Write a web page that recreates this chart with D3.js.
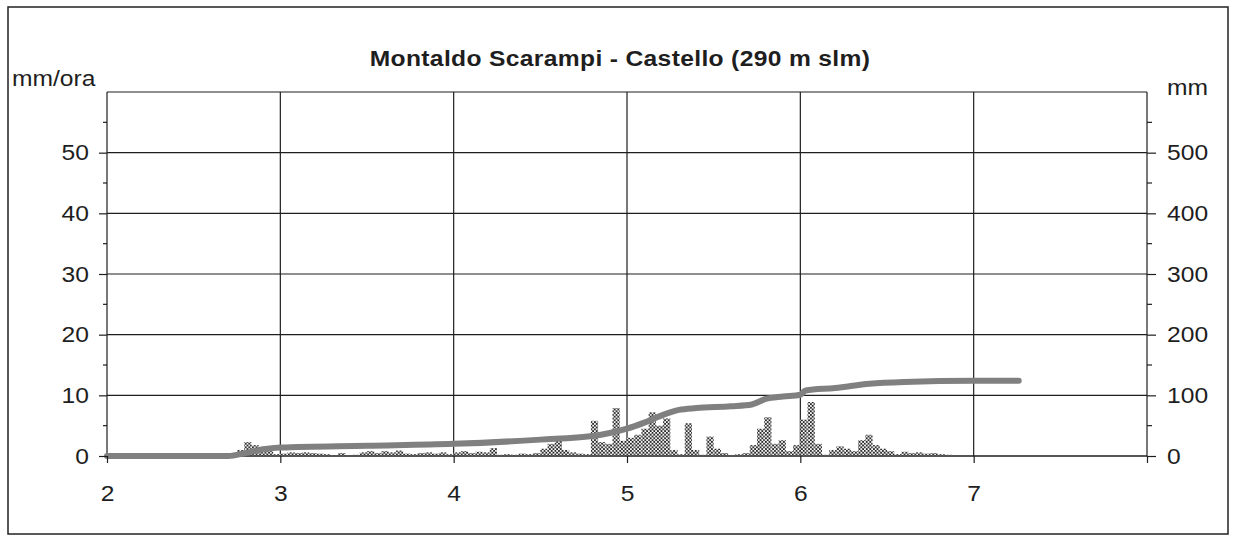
<!DOCTYPE html>
<html>
<head>
<meta charset="utf-8">
<script src="https://cdn.jsdelivr.net/npm/d3@7"></script>
<style>
  body { margin: 0; background: #fff; }
  svg text { font-family: "Liberation Sans", Arial, Helvetica, sans-serif; fill: #1e1e1e; }
</style>
</head>
<body>
<svg id="chart" width="1235" height="542"></svg>
<script>
// day ticks on the x axis
let dayTicks = [2, 3, 4, 5, 6, 7, 8]
let dayLabels = ['2', '3', '4', '5', '6', '7', '']
// left axis (mm/ora) and right axis (mm)
let rateTicks = [0, 10, 20, 30, 40, 50]
let rateMinor = [5, 15, 25, 35, 45, 55]
let cumTicks = [0, 100, 200, 300, 400, 500]
let cumMinor = [50, 150, 250, 350, 450, 550]

// hourly rain intensity (mm/ora), first bar starts at hour 17 of day 2
let firstHour = 17
let hourlyRain = [
  0.3, 1.0, 2.3, 1.8, 0.8, 1.5, 0.3,
  // day 3
  0.4, 0.6, 0.5, 0.6, 0.5, 0.4, 0.3, 0.1, 0.5, 0, 0.2, 0.6,
  0.8, 0.5, 0.8, 0.6, 0.9, 0.4, 0.3, 0.5, 0.6, 0.4, 0.6, 0.3,
  // day 4
  0.6, 0.8, 0.5, 0.7, 0.6, 1.3, 0.2, 0.3, 0.2, 0.4, 0.3, 0.5,
  1.2, 2.0, 3.3, 1.0, 0.6, 0.4, 0.3, 5.8, 2.3, 2.0, 7.9, 2.5,
  // day 5
  3.0, 3.5, 4.5, 7.2, 5.0, 6.2, 1.0, 0.3, 5.4, 1.0, 0.2, 3.2,
  1.2, 0.5, 0, 0.3, 0.5, 1.8, 4.5, 6.4, 2.0, 2.6, 0.8, 1.8,
  // day 6
  6.0, 8.9, 2.0, 0.2, 1.0, 1.6, 1.2, 0.8, 2.6, 3.5, 1.8, 1.2,
  0.8, 0.3, 0.7, 0.5, 0.6, 0.4, 0.5, 0.3, 0.2
]

// cumulated rain (mm)
let cumDay = [2.0, 2.70, 2.80, 2.90, 3.0, 3.5, 4.0, 4.5, 4.8, 4.9, 5.0, 5.1, 5.2, 5.3, 5.4, 5.6, 5.72, 5.8, 5.9, 6.0, 6.03, 6.2, 6.4, 6.6, 7.0, 7.26]
let cumMM = [0, 0, 5, 11, 14, 17, 20, 27, 33, 38, 45, 55, 67, 76, 79, 82, 85, 94, 98, 101, 108, 112, 119, 122, 124, 124]

let svg = d3.select('#chart')
let plotL = 107, plotR = 1147, plotT = 92, plotB = 456
// the printed letters are a bit wider than Liberation Sans
let stretch = 1.12

let x = d3.scaleLinear().domain([2, 8]).range([plotL, plotR])
let yRate = d3.scaleLinear().domain([0, 60]).range([plotB, plotT])
let yCum = d3.scaleLinear().domain([0, 600]).range([plotB, plotT])

// dotted fill like the printed bars
let defs = svg.append('defs')
let pat = defs.append('pattern')
  .attr('id', 'dots')
  .attr('patternUnits', 'userSpaceOnUse')
  .attr('width', 3.6).attr('height', 3.6)
pat.append('rect').attr('width', 3.6).attr('height', 3.6).attr('fill', '#fff')
pat.append('circle').attr('cx', 0.9).attr('cy', 0.9).attr('r', 1.05).attr('fill', '#222')
pat.append('circle').attr('cx', 2.7).attr('cy', 2.7).attr('r', 1.05).attr('fill', '#222')

// outer frame
svg.append('rect')
  .attr('x', 8).attr('y', 7).attr('width', 1220).attr('height', 527)
  .attr('fill', 'none').attr('stroke', '#222').attr('stroke-width', 1.5)

// text placed at (px,py) and widened horizontally
function wideText(px, py, size, str, anchor) {
  return svg.append('g')
    .attr('transform', `translate(${px},${py})`)
    .append('text')
    .attr('transform', `scale(${stretch},1)`)
    .attr('text-anchor', anchor || 'start')
    .attr('font-size', size)
    .text(str)
}

// title and unit labels
wideText(620, 66, 22, 'Montaldo Scarampi - Castello (290 m slm)', 'middle')
  .attr('font-weight', 'bold')
  .attr('letter-spacing', 0.3)
wideText(12, 86, 22, 'mm/ora')
wideText(1167, 95, 22, 'mm')

// grid
let grid = svg.append('g').attr('stroke', '#1e1e1e').attr('stroke-width', 1.2)
grid.selectAll('.hgrid')
  .data(rateTicks.concat([60]))
  .join('line')
  .attr('x1', plotL).attr('x2', plotR)
  .attr('y1', d => yRate(d)).attr('y2', d => yRate(d))
grid.selectAll('.vgrid')
  .data(dayTicks)
  .join('line')
  .attr('x1', d => x(d)).attr('x2', d => x(d))
  .attr('y1', plotT).attr('y2', plotB)

// hourly bars
let barW = x(2 + 1 / 24) - x(2)
svg.append('g').selectAll('rect')
  .data(hourlyRain)
  .join('rect')
  .attr('x', (d, i) => x(2 + (firstHour + i) / 24))
  .attr('width', barW)
  .attr('y', d => yRate(d))
  .attr('height', d => yRate(0) - yRate(d))
  .attr('fill', 'url(#dots)')

// base line again over the bars
svg.append('line')
  .attr('x1', plotL).attr('x2', plotR)
  .attr('y1', plotB).attr('y2', plotB)
  .attr('stroke', '#1e1e1e').attr('stroke-width', 1.2)

// cumulated line
let line = d3.line()
  .x((d, i) => x(cumDay[i]))
  .y(d => yCum(d))
  .curve(d3.curveMonotoneX)
svg.append('path')
  .attr('d', line(cumMM))
  .attr('fill', 'none')
  .attr('stroke', '#808080')
  .attr('stroke-width', 6)
  .attr('stroke-linecap', 'round')
  .attr('stroke-linejoin', 'round')

// axes
let axisLeft = d3.axisLeft(yRate).tickValues(rateTicks).tickSize(8).tickPadding(10)
let axisRight = d3.axisRight(yCum).tickValues(cumTicks).tickSize(9).tickPadding(11)
let axisBottom = d3.axisBottom(x).tickValues(dayTicks).tickSize(7).tickPadding(22)
  .tickFormat((d, i) => dayLabels[i])

function styleAxis(g) {
  g.select('.domain').remove()
  g.selectAll('line').attr('stroke', '#1e1e1e').attr('stroke-width', 1.2)
  g.selectAll('text')
    .attr('font-size', 22).attr('font-family', null)
    .attr('x', function () { return +d3.select(this).attr('x') / stretch })
    .attr('transform', `scale(${stretch},1)`)
}

svg.append('g').attr('transform', `translate(${plotL},0)`).call(axisLeft).call(styleAxis)
svg.append('g').attr('transform', `translate(${plotR},0)`).call(axisRight).call(styleAxis)
svg.append('g').attr('transform', `translate(0,${plotB})`).call(axisBottom).call(styleAxis)

// minor ticks
svg.append('g').selectAll('line')
  .data(rateMinor)
  .join('line')
  .attr('x1', plotL - 4).attr('x2', plotL)
  .attr('y1', d => yRate(d)).attr('y2', d => yRate(d))
  .attr('stroke', '#1e1e1e').attr('stroke-width', 1.2)
svg.append('g').selectAll('line')
  .data(cumMinor)
  .join('line')
  .attr('x1', plotR).attr('x2', plotR + 5)
  .attr('y1', d => yCum(d)).attr('y2', d => yCum(d))
  .attr('stroke', '#1e1e1e').attr('stroke-width', 1.2)
</script>
</body>
</html>
